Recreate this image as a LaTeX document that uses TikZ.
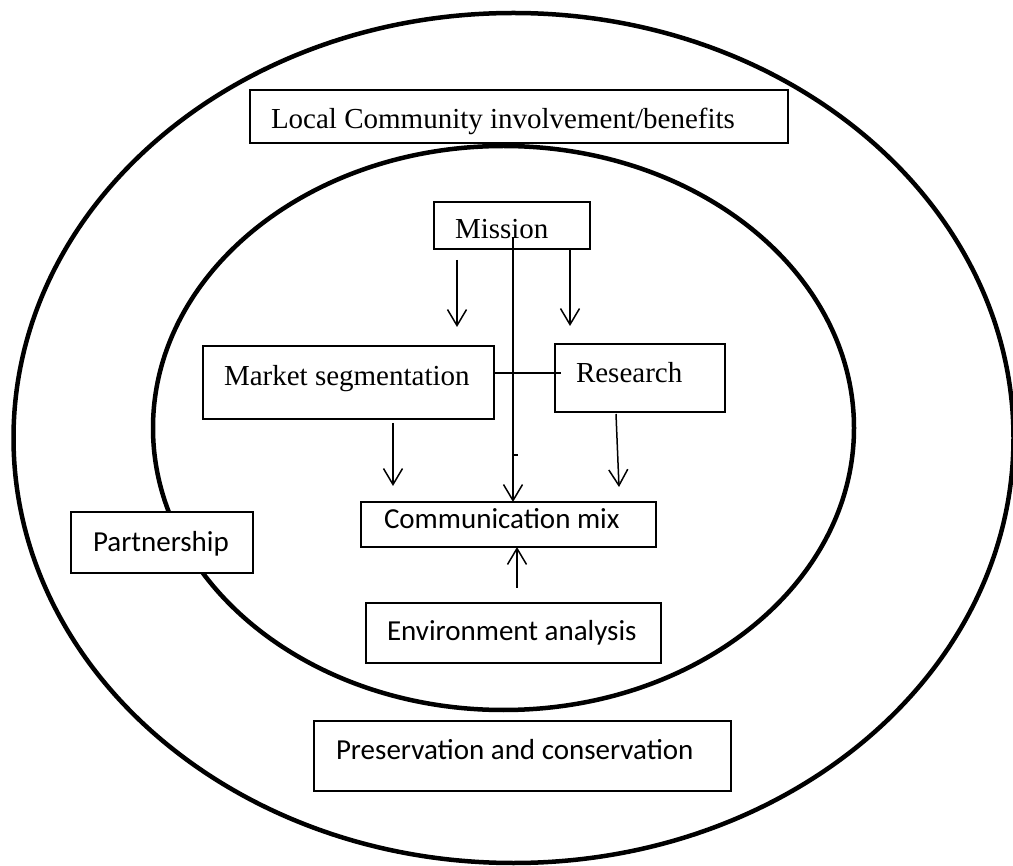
\documentclass[tikz,border=0pt]{standalone}
\usepackage{fontspec}
\setmainfont{Liberation Serif}
\newfontfamily\calfont{Carlito}
\usetikzlibrary{arrows.meta}
\newcommand\bx[2]{\makebox[#1pt][l]{#2}}
\begin{document}
\begin{tikzpicture}[x=1pt,y=-1pt,
  box/.style={draw, fill=white, line width=1.3pt, inner ysep=0pt, outer sep=0pt, anchor=north west, font=\fontsize{29}{34}\selectfont},
  cal/.style={font=\fontsize{29}{34}\selectfont\calfont},
  arr/.style={line width=1.5pt, -{Straight Barb[length=16pt,width=19pt]}},
  ln/.style={line width=1.5pt},
  ring/.style={line width=4.5pt}]
\useasboundingbox (0,0) rectangle (1013,866);
\draw[ring] (513.5,438) ellipse [x radius=500, y radius=425];
\draw[ring] (503.5,428) ellipse [x radius=350.5, y radius=282];

\node[box, inner xsep=21pt, text height=39pt, text depth=14pt] (lc) at (250,90) {\bx{496}{Local Community involvement/benefits}};
\node[box, inner xsep=21pt, text height=37pt, text depth=10pt] (mis) at (434,202) {\bx{114}{Mission}};
\node[box, inner xsep=21pt, text height=40pt, text depth=33pt] (ms) at (203,346) {\bx{249}{Market segmentation}};
\node[box, inner xsep=21pt, text height=39pt, text depth=29pt] (res) at (555,344) {\bx{128}{Research}};
\node[box, cal, inner xsep=23pt, text height=27pt, text depth=18pt] (cm) at (361,502) {\bx{249}{Communication mix}};
\node[box, cal, inner xsep=22pt, text height=39pt, text depth=22pt] (pa) at (71,512) {\bx{138}{Partnership}};
\node[box, cal, inner xsep=21pt, text height=37pt, text depth=23pt] (env) at (366,603) {\bx{253}{Environment analysis}};
\node[box, cal, inner xsep=22pt, text height=38pt, text depth=32pt] (pr) at (314,721) {\bx{373}{Preservation and conservation}};

\coordinate (a1s) at (457,260);
\coordinate (a1e) at (457,327);
\draw[arr] (a1s) -- (a1e);
\coordinate (a2e) at (570,326);
\draw[arr] (a2e |- mis.south) -- (a2e);
\coordinate (mtop) at (513,237);
\draw[arr] (mtop) -- (mtop |- cm.north);
\coordinate (tk) at (512,455);
\draw[ln] (tk) -- ++(6,0);
\coordinate (hr) at (561,373);
\draw[ln] (hr -| ms.east) -- (hr);
\coordinate (b1s) at (393,423);
\coordinate (b1e) at (393,486);
\draw[arr] (b1s) -- (b1e);
\coordinate (b2s) at (616,414);
\coordinate (b2e) at (619,487);
\draw[arr] (b2s) -- (b2e);
\coordinate (es) at (517,588);
\draw[arr] (es) -- (es |- cm.south);
\end{tikzpicture}
\end{document}
